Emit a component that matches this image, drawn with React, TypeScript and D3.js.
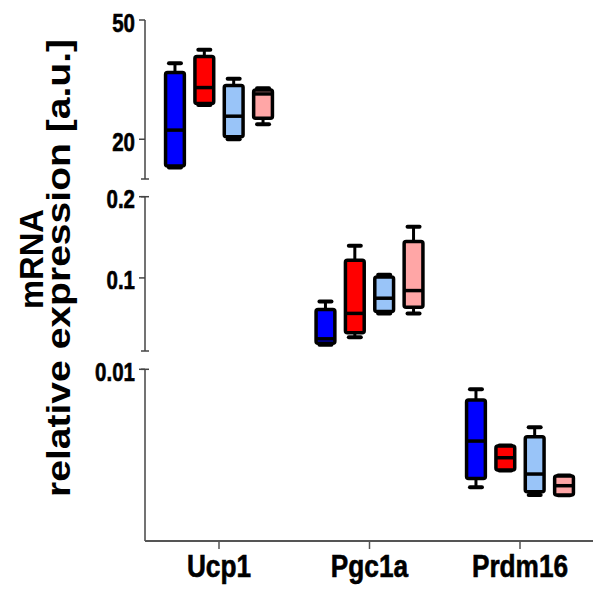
import React from "react";
import * as d3 from "d3";

const categories = ["Ucp1", "Pgc1a", "Prdm16"];
const seriesNames = ["group1", "group2", "group3", "group4"];
const seriesColors = ["#0000ff", "#ff0000", "#99c4f8", "#ffa6a6"];

// [min, q1, median, q3, max]
const ucp1Stats = [
  [12.9, 13.3, 22.3, 36.8, 39.1],
  [28.6, 29.0, 33.0, 40.8, 42.5],
  [20.0, 20.6, 25.8, 33.5, 35.2],
  [23.8, 25.3, 31.4, 32.4, 32.8],
];
const pgc1aStats = [
  [0.0178, 0.0195, 0.025, 0.0612, 0.071],
  [0.027, 0.0326, 0.0563, 0.1216, 0.1396],
  [0.0563, 0.0587, 0.075, 0.1012, 0.104],
  [0.0563, 0.064, 0.0844, 0.1448, 0.163],
];
const prdm16Stats = [
  [0.00313, 0.00364, 0.00582, 0.00821, 0.00884],
  [0.0041, 0.00414, 0.00485, 0.00553, 0.00556],
  [0.00268, 0.00287, 0.0039, 0.00607, 0.00662],
  [0.00266, 0.00268, 0.00322, 0.00379, 0.00381],
];

// axis segments
const segDomains = [
  [10, 50],
  [0.01, 0.2],
  [0, 0.01],
];
const segTicks = [[50, 20], [0.2, 0.1], [0.01]];
const segTickLabels = [["50", "20"], ["0.2", "0.1"], ["0.01"]];
const segRanges = [
  [179, 20],
  [351, 196.7],
  [541, 369.3],
];

const statsByCategory = [ucp1Stats, pgc1aStats, prdm16Stats];

export default function App() {
  const W = 593;
  const H = 595;
  const axisX = 145;
  const axisY = 541;

  const x = d3.scalePoint<string>().domain(categories).range([219, 520]);
  const inner = d3.scaleBand<string>().domain(seriesNames).range([-64, 64]).padding(0.36);
  const yScales = segDomains.map((d, i) =>
    d3.scaleLinear().domain(d).range(segRanges[i])
  );

  const sans = "'Liberation Sans', Arial, Helvetica, sans-serif";
  const bw = inner.bandwidth();
  const capW = 12;
  const sx = 0.82;

  return (
    <svg width={W} height={H} style={{ position: "absolute", left: 0, top: 0 }}>
      <rect width={W} height={H} fill="#ffffff" />
      {/* y axis segments */}
      {yScales.map((ys, i) => {
        const [r0, r1] = ys.range();
        return (
          <g key={"seg" + i}>
            <line x1={axisX} x2={axisX} y1={r0} y2={r1} stroke="#444" strokeWidth={1.5} />
            {i > 0 && <line x1={axisX - 4} x2={axisX + 4} y1={r1} y2={r1} stroke="#444" strokeWidth={1.5} />}
            {i < 2 && <line x1={axisX - 4} x2={axisX + 4} y1={r0} y2={r0} stroke="#444" strokeWidth={1.5} />}
            {segTicks[i].map((t, j) => (
              <g key={"t" + j}>
                <line x1={axisX - 6} x2={axisX} y1={ys(t)} y2={ys(t)} stroke="#444" strokeWidth={1.5} />
                <text
                  transform={`translate(${axisX - 10},${ys(t) + 11.5}) scale(${sx},1)`}
                  textAnchor="end"
                  fontFamily={sans}
                  fontWeight="bold"
                  fontSize={25}
                  stroke="#000"
                  strokeWidth={0.6}
                  fill="#000"
                >
                  {segTickLabels[i][j]}
                </text>
              </g>
            ))}
          </g>
        );
      })}
      {/* x axis */}
      <line x1={axisX} x2={W} y1={axisY} y2={axisY} stroke="#555" strokeWidth={2} />
      {categories.map((c) => (
        <g key={c}>
          <line x1={x(c)} x2={x(c)} y1={axisY} y2={axisY + 8} stroke="#555" strokeWidth={1.5} />
          <text
            transform={`translate(${x(c)},577) scale(${sx},1)`}
            textAnchor="middle"
            fontFamily={sans}
            fontWeight="bold"
            fontSize={32}
            stroke="#000"
            strokeWidth={0.6}
            fill="#000"
          >
            {c}
          </text>
        </g>
      ))}
      {/* boxes */}
      {categories.map((c, ci) => {
        const ys = yScales[ci];
        return statsByCategory[ci].map((s, si) => {
          const cx = (x(c) as number) + (inner(seriesNames[si]) as number) + bw / 2;
          const [mn, q1, md, q3, mx] = s;
          return (
            <g key={c + si}>
              <line x1={cx} x2={cx} y1={ys(mx)} y2={ys(q3)} stroke="#000" strokeWidth={3} />
              <line x1={cx} x2={cx} y1={ys(q1)} y2={ys(mn)} stroke="#000" strokeWidth={3} />
              <line x1={cx - capW / 2} x2={cx + capW / 2} y1={ys(mx)} y2={ys(mx)} stroke="#000" strokeWidth={4} strokeLinecap="round" />
              <line x1={cx - capW / 2} x2={cx + capW / 2} y1={ys(mn)} y2={ys(mn)} stroke="#000" strokeWidth={4} strokeLinecap="round" />
              <rect
                x={cx - bw / 2}
                y={ys(q3)}
                width={bw}
                height={ys(q1) - ys(q3)}
                fill={seriesColors[si]}
                stroke="#000"
                strokeWidth={3.5}
                rx={2}
              />
              <line x1={cx - bw / 2} x2={cx + bw / 2} y1={ys(md)} y2={ys(md)} stroke="#000" strokeWidth={3.5} />
            </g>
          );
        });
      })}
      {/* y axis title */}
      <text
        transform={`translate(43,259) rotate(-90)`}
        textAnchor="middle"
        fontFamily={sans}
        fontWeight="bold"
        fontSize={33}
        textLength={100}
        lengthAdjust="spacingAndGlyphs"
        fill="#000"
      >
        mRNA
      </text>
      <text
        transform={`translate(70,268) rotate(-90)`}
        textAnchor="middle"
        fontFamily={sans}
        fontWeight="bold"
        fontSize={33}
        textLength={458}
        lengthAdjust="spacingAndGlyphs"
        fill="#000"
      >
        relative expression [a.u.]
      </text>
    </svg>
  );
}
